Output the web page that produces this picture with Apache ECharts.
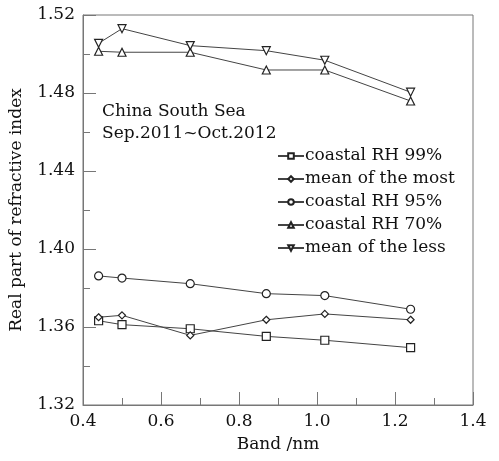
<!DOCTYPE html>
<html>
<head>
<meta charset="utf-8">
<script src="https://cdn.jsdelivr.net/npm/echarts@6/dist/echarts.min.js"></script>
<style>html,body{margin:0;padding:0;background:#fff;}#c{width:499px;height:461px;}</style>
</head>
<body>
<div id="c"></div>
<script>
var bands = [0.44, 0.50, 0.675, 0.87, 1.02, 1.24];
var rh99 = [1.3632, 1.3612, 1.3591, 1.3552, 1.3532, 1.3494];
var meanMost = [1.3650, 1.3660, 1.3557, 1.3637, 1.3667, 1.3637];
var rh95 = [1.3862, 1.3851, 1.3822, 1.3771, 1.3761, 1.3691];
var rh70 = [1.5014, 1.5009, 1.5009, 1.4918, 1.4918, 1.4759];
var meanLess = [1.5055, 1.5130, 1.5043, 1.5017, 1.4968, 1.4804];
var seriesNames = ['coastal RH 99%', 'mean of the most', 'coastal RH 95%', 'coastal RH 70%', 'mean of the less'];
var annotation = ['China South Sea', 'Sep.2011~Oct.2012'];

var font = 'DejaVu Serif';
function pairs(ys){ return bands.map(function(x,i){ return [x, ys[i]]; }); }
function mk(name, ys, sym, size, rot){
  return {
    name: name, type: 'line', data: pairs(ys), symbol: sym, symbolSize: size,
    symbolRotate: rot || 0, showAllSymbol: true,
    lineStyle: {color: '#444', width: 1},
    itemStyle: {color: '#fff', borderColor: '#222', borderWidth: 1.2},
    emphasis: {disabled: true}, animation: false
  };
}
var chart = echarts.init(document.getElementById('c'));
chart.setOption({
  animation: false,
  backgroundColor: '#fff',
  grid: {left: 82, right: 26, top: 15, bottom: 56, show: true, borderColor: '#777', borderWidth: 1, backgroundColor: 'transparent'},
  xAxis: {
    type: 'value', min: 0.4, max: 1.4, interval: 0.2,
    name: 'Band /nm', nameLocation: 'middle', nameGap: 31,
    nameTextStyle: {fontFamily: font, fontSize: 17, color: '#111'},
    axisLine: {lineStyle: {color: '#777'}},
    axisTick: {inside: true, length: 13, lineStyle: {color: '#777'}},
    minorTick: {show: true, splitNumber: 2, length: 7, lineStyle: {color: '#777'}},
    splitLine: {show: false},
    axisLabel: {fontFamily: font, fontSize: 17, color: '#111', margin: 8, formatter: function(v){ return v.toFixed(1); }}
  },
  yAxis: {
    type: 'value', min: 1.32, max: 1.52, interval: 0.04,
    name: 'Real part of refractive index', nameLocation: 'middle', nameGap: 58,
    nameTextStyle: {fontFamily: font, fontSize: 17, color: '#111'},
    axisLine: {lineStyle: {color: '#777'}},
    axisTick: {inside: true, length: 13, lineStyle: {color: '#777'}},
    minorTick: {show: true, splitNumber: 2, length: 7, lineStyle: {color: '#777'}},
    splitLine: {show: false},
    axisLabel: {fontFamily: font, fontSize: 17, color: '#111', margin: 8, formatter: function(v){ return v.toFixed(2); }}
  },
  legend: {
    orient: 'vertical', left: 272, top: 142, itemGap: 5, itemWidth: 26, itemHeight: 7,
    textStyle: {fontFamily: font, fontSize: 17, color: '#111', lineHeight: 18, padding: [0,0,0,-4]},
    data: seriesNames
  },
  graphic: [{
    type: 'text', left: 102, top: 101,
    style: {text: annotation.join('\n'), font: '17px "DejaVu Serif"', fill: '#111', lineHeight: 22}
  }],
  series: [
    mk(seriesNames[0], rh99, 'rect', 8),
    mk(seriesNames[1], meanMost, 'diamond', 7),
    mk(seriesNames[2], rh95, 'circle', 8),
    mk(seriesNames[3], rh70, 'triangle', 8),
    mk(seriesNames[4], meanLess, 'triangle', 8, 180)
  ]
});
</script>
</body>
</html>
